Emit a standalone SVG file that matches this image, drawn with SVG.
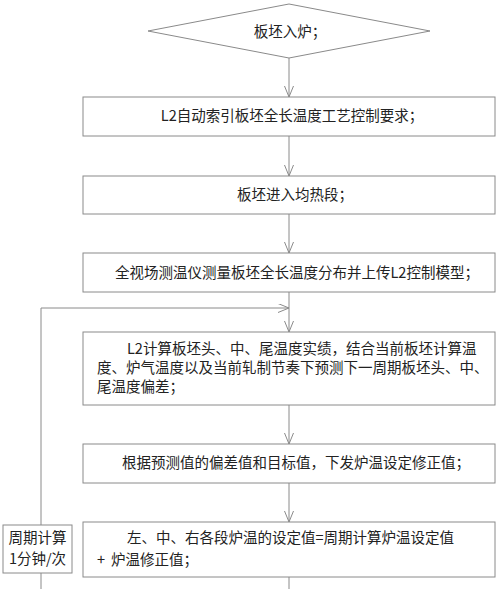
<svg xmlns="http://www.w3.org/2000/svg" width="500" height="589" viewBox="0 0 500 589">
<style>
.n{fill:#fff;stroke:#8a8a8a;stroke-width:1}
.c{fill:none;stroke:#8a8a8a;stroke-width:1}
text{font-family:"Noto Sans CJK SC","Liberation Serif",serif;font-size:14.5px;fill:#222}
.m{text-anchor:middle}
</style>
<defs>
<marker id="ar" markerUnits="userSpaceOnUse" markerWidth="12" markerHeight="10" refX="11" refY="4.5" orient="auto">
<path d="M0,0 L11,4.5 L0,9" fill="none" stroke="#8a8a8a" stroke-width="1"/>
</marker>
</defs>
<rect width="500" height="589" fill="#fff"/>
<g id="connectors">
<line class="c" x1="289" y1="58" x2="289" y2="97" marker-end="url(#ar)"/>
<line class="c" x1="289" y1="136" x2="289" y2="176" marker-end="url(#ar)"/>
<line class="c" x1="289" y1="214" x2="289" y2="253" marker-end="url(#ar)"/>
<line class="c" x1="289" y1="292" x2="289" y2="332" marker-end="url(#ar)"/>
<polyline class="c" points="41,589 41,308 289,308" marker-end="url(#ar)"/>
<line class="c" x1="289" y1="405" x2="289" y2="444" marker-end="url(#ar)"/>
<line class="c" x1="289" y1="483" x2="289" y2="522" marker-end="url(#ar)"/>
<line class="c" x1="289" y1="577" x2="289" y2="589"/>
</g>
<g id="start">
<polygon class="n" points="289,4 430,31 289,58 148,31"/>
<text class="m" x="290" y="37">板坯入炉；</text>
</g>
<g id="step1">
<rect class="n" x="83" y="97" width="412" height="39"/>
<text class="m" x="292" y="121">L2自动索引板坯全长温度工艺控制要求；</text>
</g>
<g id="step2">
<rect class="n" x="83" y="176" width="412" height="38"/>
<text class="m" x="295" y="200">板坯进入均热段；</text>
</g>
<g id="step3">
<rect class="n" x="83" y="253" width="412" height="39"/>
<text x="115" y="278">全视场测温仪测量板坯全长温度分布并上传L2控制模型；</text>
</g>
<g id="step4">
<rect class="n" x="83" y="332" width="412" height="73"/>
<text x="127" y="354">L2计算板坯头、中、尾温度实绩，结合当前板坯计算温</text>
<text x="97" y="373">度、炉气温度以及当前轧制节奏下预测下一周期板坯头、中、</text>
<text x="97" y="392">尾温度偏差；</text>
</g>
<g id="step5">
<rect class="n" x="83" y="444" width="412" height="39"/>
<text x="122" y="468">根据预测值的偏差值和目标值，下发炉温设定修正值；</text>
</g>
<g id="step6">
<rect class="n" x="83" y="522" width="412" height="55"/>
<text x="127" y="543">左、中、右各段炉温的设定值=周期计算炉温设定值</text>
<text x="97" y="565">+<tspan x="111">炉温修正值；</tspan></text>
</g>
<g id="cycle">
<rect class="n" x="3" y="525" width="69" height="48"/>
<text class="m" x="37.5" y="543">周期计算</text>
<text class="m" x="37.5" y="564">1分钟/次</text>
</g>
</svg>
